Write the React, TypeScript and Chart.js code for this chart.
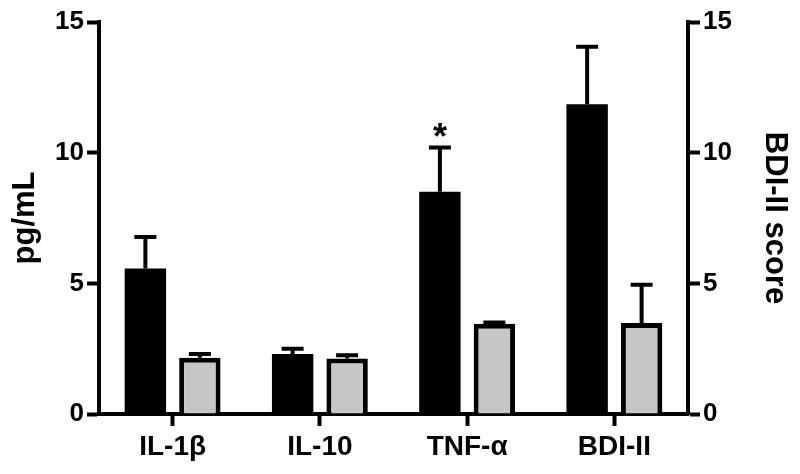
import React, { useEffect, useRef } from "react";
import { Chart, registerables } from "chart.js";

Chart.register(...registerables);

const categories = ["IL-1β", "IL-10", "TNF-α", "BDI-II"];
const blackValues = [5.57, 2.3, 8.5, 11.85];
const blackErrors = [1.2, 0.2, 1.7, 2.2];
const grayValues = [2.15, 2.12, 3.45, 3.48];
const grayErrors = [0.15, 0.13, 0.05, 1.47];
const yTicks = [0, 5, 10, 15];
const leftTitle = "pg/mL";
const rightTitle = "BDI-II score";
const starIndex = 2;

const FONT = "'Liberation Sans', Arial, sans-serif";

const errorBarPlugin = {
  id: "errorBars",
  afterDatasetsDraw(chart: any) {
    const ctx = chart.ctx;
    const yScale = chart.scales.y;
    const errs = [blackErrors, grayErrors];
    const vals = [blackValues, grayValues];
    ctx.save();
    ctx.strokeStyle = "#000";
    ctx.lineWidth = 4;
    ctx.lineCap = "butt";
    chart.data.datasets.forEach((_: any, di: number) => {
      const meta = chart.getDatasetMeta(di);
      meta.data.forEach((bar: any, i: number) => {
        const x = bar.x;
        const yTop = yScale.getPixelForValue(vals[di][i]);
        const yErr = yScale.getPixelForValue(vals[di][i] + errs[di][i]);
        ctx.beginPath();
        ctx.moveTo(x, yTop);
        ctx.lineTo(x, yErr);
        ctx.moveTo(x - 11, yErr);
        ctx.lineTo(x + 11, yErr);
        ctx.stroke();
        if (di === 0 && i === starIndex) {
          ctx.fillStyle = "#000";
          ctx.font = `bold 36px ${FONT}`;
          ctx.textAlign = "center";
          ctx.textBaseline = "middle";
          ctx.fillText("*", x, yErr - 8);
        }
      });
    });
    ctx.restore();
  },
};

export default function App() {
  const ref = useRef<HTMLCanvasElement | null>(null);
  useEffect(() => {
    if (!ref.current) return;
    const yTickFont = { family: FONT, size: 26, weight: "bold" as const };
    const xTickFont = { family: FONT, size: 28, weight: "bold" as const };
    const titleFont = { family: FONT, size: 31, weight: "bold" as const };
    const chart = new Chart(ref.current, {
      type: "bar",
      data: {
        labels: categories,
        datasets: [
          {
            data: blackValues,
            backgroundColor: "#000000",
            borderWidth: 0,
            categoryPercentage: 0.74,
            barPercentage: 0.76,
          },
          {
            data: grayValues,
            backgroundColor: "#c6c6c6",
            borderColor: "#000000",
            borderWidth: 5,
            borderSkipped: "bottom",
            categoryPercentage: 0.74,
            barPercentage: 0.76,
          },
        ],
      },
      options: {
        responsive: false,
        animation: false,
        devicePixelRatio: 1,
        layout: { padding: { top: 22, left: 0, right: 0, bottom: 0 } },
        plugins: { legend: { display: false }, tooltip: { enabled: false } },
        scales: {
          x: {
            offset: true,
            grid: {
              offset: false,
              drawOnChartArea: false,
              drawTicks: true,
              tickLength: 12,
              tickWidth: 4,
              tickColor: "#000",
            },
            border: { display: true, color: "#000", width: 4 },
            ticks: { color: "#000", font: xTickFont, padding: 4, maxRotation: 0 },
            afterFit: (s: any) => {
              s.height = 60;
            },
          },
          y: {
            position: "left",
            min: 0,
            max: 15,
            afterBuildTicks: (s: any) => {
              s.ticks = yTicks.map((v) => ({ value: v }));
            },
            grid: {
              drawOnChartArea: false,
              tickLength: 12,
              tickWidth: 4,
              tickColor: "#000",
            },
            border: { display: true, color: "#000", width: 4 },
            ticks: { color: "#000", font: yTickFont, padding: 3 },
            title: {
              display: true,
              text: leftTitle,
              color: "#000",
              font: titleFont,
              padding: { top: 7, bottom: 0 },
            },
            afterFit: (s: any) => {
              s.width = 99;
            },
          },
          y1: {
            position: "right",
            min: 0,
            max: 15,
            afterBuildTicks: (s: any) => {
              s.ticks = yTicks.map((v) => ({ value: v }));
            },
            grid: {
              drawOnChartArea: false,
              tickLength: 12,
              tickWidth: 4,
              tickColor: "#000",
            },
            border: { display: true, color: "#000", width: 4 },
            ticks: { color: "#000", font: yTickFont, padding: 3 },
            title: {
              display: true,
              text: rightTitle,
              color: "#000",
              font: titleFont,
              padding: { top: 7, bottom: 0 },
            },
            afterFit: (s: any) => {
              s.width = 112;
            },
          },
        },
      },
      plugins: [errorBarPlugin],
    });
    return () => chart.destroy();
  }, []);
  return (
    <div style={{ position: "fixed", left: 0, top: 0, width: 800, height: 474, background: "#fff" }}>
      <canvas ref={ref} width={800} height={474} style={{ display: "block" }} />
    </div>
  );
}
